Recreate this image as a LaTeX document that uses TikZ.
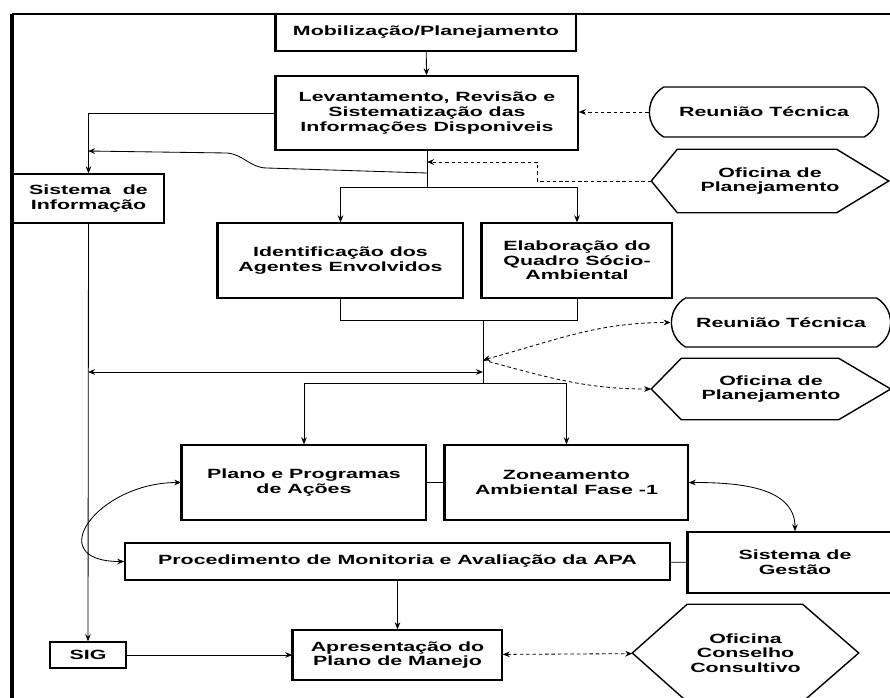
\documentclass[tikz,border=0pt]{standalone}
\usepackage{fontspec}
\newfontfamily\boxfont[FakeStretch=1.6]{Liberation Sans}
\usetikzlibrary{arrows.meta, positioning, calc, shapes.misc}

\begin{document}
\begin{tikzpicture}[x=0.025cm, y=-0.025cm, >={Stealth[length=5pt,width=4pt]},
    box/.style={rectangle, draw, line width=1pt, align=center, inner sep=1pt, font=\boxfont\bfseries\fontsize{9.5}{10.4}\selectfont},
    meeting/.style={box, rounded rectangle, rounded rectangle arc length=120},
    workshop/.style={box, draw=none},
    link/.style={line width=0.6pt},
    meet/.style={link, dashed, dash pattern=on 2.5pt off 2pt}]
    \useasboundingbox (0,0) rectangle (890,698);
    % frame
    \draw[line width=2.2pt] (12,698) -- (12,14);
    \draw[line width=0.9pt] (12,14) -- (890,14);

    \node[box, minimum width=7.5cm, minimum height=0.925cm] (mob) at (426,32.5) {Mobilização/Planejamento};
    \node[box, minimum width=7.55cm, minimum height=1.85cm] (lev) at (427,113) {Levantamento, Revisão e\\Sistematização das\\Informações Disponiveis};
    \node[box, minimum width=3.775cm, minimum height=1.225cm] (sinf) at (88.5,198.5) {Sistema~~de\\Informação};
    \node[box, minimum width=6.125cm, minimum height=1.875cm] (ident) at (340.5,260.5) {Identificação dos\\Agentes Envolvidos};
    \node[box, minimum width=4.75cm, minimum height=1.875cm] (elab) at (577,260.5) {Elaboração do\\Quadro Sócio-\\Ambiental};
    \node[meeting, minimum width=5.8cm, minimum height=1.25cm] (reun1) at (764,112) {Reunião Técnica};
    \node[workshop, minimum width=5.9cm, minimum height=1.55cm] (ofic1) at (770,181) {Oficina de\\Planejamento};
    \node[meeting, minimum width=5.55cm, minimum height=1.225cm] (reun2) at (781,322.5) {Reunião Técnica};
    \node[workshop, minimum width=5.95cm, minimum height=1.5cm] (ofic2) at (771,389) {Oficina de\\Planejamento};
    \node[box, minimum width=6.1cm, minimum height=1.875cm] (plano) at (304,482.5) {Plano e Programas\\de Ações};
    \node[box, minimum width=6.075cm, minimum height=1.875cm] (zon) at (566.5,482.5) {Zoneamento\\Ambiental Fase -1};
    \node[box, minimum width=13.625cm, minimum height=0.925cm] (proc) at (397.5,561.5) {Procedimento de Monitoria e Avaliação da APA};
    \node[box, minimum width=5.35cm, minimum height=1.525cm] (gest) at (795,562.5) {Sistema de\\Gestão};
    \node[box, minimum width=5.225cm, minimum height=1.25cm] (apres) at (397.5,655) {Apresentação do\\Plano de Manejo};
    \node[box, minimum width=1.9cm, minimum height=0.65cm] (sig) at (88,655) {SIG};
    \node[workshop, minimum width=5.625cm, minimum height=2.4cm] (ofic3) at (745.5,653) {Oficina\\Conselho\\Consultivo};

    % hexagons
    \foreach \h/\a/\b in {ofic1/0.65cm/1.3cm, ofic2/0.75cm/1.3cm, ofic3/1.37cm/1.4cm}
        \draw[line width=1pt] (\h.west) -- ([xshift=\a]\h.north west) -- ([xshift=-\b]\h.north east) -- (\h.east) -- ([xshift=-\b]\h.south east) -- ([xshift=\a]\h.south west) -- cycle;
    % heavy left edges
    \foreach \n in {mob,lev,ident,elab,plano,zon,gest,apres}
        \draw[line width=2.2pt] (\n.north west) -- (\n.south west);

    \coordinate (j1) at (427,187);
    \coordinate (c1) at (427,173);
    \coordinate (c2) at (88,151);
    \coordinate (c3) at (427,162);
    \coordinate (j2) at (483,320);
    \coordinate (j3) at (483,383);
    \coordinate (c4) at (88,372);
    \coordinate (c5) at (483,372);
    \coordinate (c6) at (483,360);

    \draw[link, ->] (mob) -- (lev);
    \draw[link, ->] (lev.west) -| (sinf.north);
    \draw[link, ->] (c1) -- ++(-160,-5) to[out=180,in=-5] ++(-40,-15) -- (c2);
    \draw[link] (lev.south) -- (j1);
    \draw[link, ->] (j1) -| (ident.north);
    \draw[link, ->] (j1) -| (elab.north);
    \draw[meet, ->] (reun1.west) -- (lev.east |- reun1.west);
    \draw[meet, ->] (ofic1.west) -- ++(-114,0) |- (c3);
    \draw[link, ->] (sinf.south) -- (sig.north);
    \draw[link] (ident.south) -- ++(0,22) -| (elab.south);
    \draw[link] (j2) -- (j3);
    \draw[link, ->] (j3) -| (plano.north);
    \draw[link, ->] (j3) -| (zon.north);
    \draw[link, <->] (c4) -- (c5);
    \draw[meet, <->] (c6) to[out=15,in=180] (reun2.west);
    \draw[meet, ->] (c6) to[out=-15,in=180] (ofic2.west);
    \draw[link] (plano) -- (zon);
    \draw[link, <->] (plano.west) to[out=180,in=180,looseness=2.2] (proc.west);
    \draw[link, <->] (zon.east) to[out=0,in=90] (gest.north);
    \draw[link] (proc) -- (gest);
    \draw[link, ->] (proc) -- (apres);
    \draw[link, ->] (sig) -- (apres);
    \draw[meet, <->] (apres) -- (ofic3);
\end{tikzpicture}
\end{document}
